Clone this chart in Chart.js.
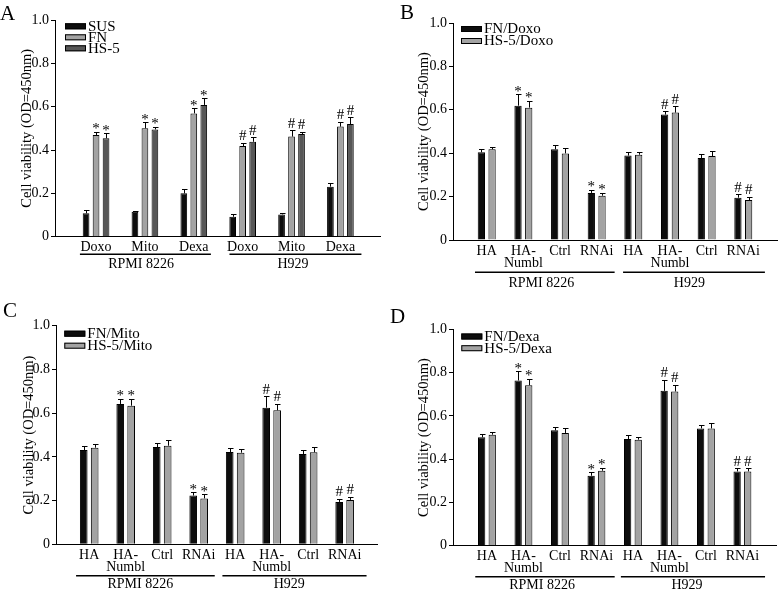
<!DOCTYPE html>
<html>
<head>
<meta charset="utf-8">
<script src="https://cdn.jsdelivr.net/npm/chart.js@4.4.1/dist/chart.umd.min.js"></script>
<style>
  body { margin: 0; background: #fff; }
  #figure { position: relative; width: 778px; height: 590px; }
  #figure canvas { position: absolute; }
</style>
</head>
<body>
<div id="figure">
  <canvas id="panel-a" width="389" height="295" style="left:0;top:0"></canvas>
  <canvas id="panel-b" width="389" height="295" style="left:389px;top:0"></canvas>
  <canvas id="panel-c" width="389" height="295" style="left:0;top:295px"></canvas>
  <canvas id="panel-d" width="389" height="295" style="left:389px;top:295px"></canvas>
</div>
<script>
// ---- data ----
const yTicks = [0, 0.2, 0.4, 0.6, 0.8, 1.0];
const yTickLabels = ['0', '0.2', '0.4', '0.6', '0.8', '1.0'];
const groupNames = ['RPMI 8226', 'H929'];

// Panel A
const drugCats = ['Doxo', 'Mito', 'Dexa', 'Doxo', 'Mito', 'Dexa'];
const susA = [0.108, 0.115, 0.200, 0.092, 0.103, 0.231];
const susErrA = [0.015, 0.003, 0.018, 0.013, 0.005, 0.018];
const fnA = [0.469, 0.500, 0.569, 0.418, 0.462, 0.508];
const fnErrA = [0.016, 0.028, 0.023, 0.016, 0.030, 0.023];
const hs5A = [0.454, 0.495, 0.608, 0.438, 0.474, 0.520];
const hs5ErrA = [0.023, 0.013, 0.030, 0.020, 0.011, 0.031];
const marksA = ['*', '*', '*', '#', '#', '#'];

// Panels B-D share the same categories
const numblCats = ['HA', ['HA-', 'Numbl'], 'Ctrl', 'RNAi', 'HA', ['HA-', 'Numbl'], 'Ctrl', 'RNAi'];
const marksNumbl = ['', '*', '', '*', '', '#', '', '#'];

const fnDoxo = [0.404, 0.619, 0.418, 0.217, 0.389, 0.578, 0.378, 0.195];
const fnDoxoErr = [0.015, 0.052, 0.018, 0.015, 0.015, 0.015, 0.017, 0.015];
const hsDoxo = [0.418, 0.610, 0.399, 0.204, 0.393, 0.587, 0.387, 0.184];
const hsDoxoErr = [0.012, 0.031, 0.025, 0.014, 0.014, 0.030, 0.023, 0.016];

const fnMito = [0.431, 0.642, 0.445, 0.223, 0.422, 0.625, 0.413, 0.194];
const fnMitoErr = [0.018, 0.023, 0.017, 0.015, 0.017, 0.052, 0.020, 0.014];
const hsMito = [0.442, 0.634, 0.451, 0.210, 0.419, 0.613, 0.421, 0.203];
const hsMitoErr = [0.015, 0.031, 0.026, 0.018, 0.017, 0.029, 0.026, 0.015];

const fnDexa = [0.501, 0.764, 0.533, 0.323, 0.493, 0.716, 0.542, 0.343];
const fnDexaErr = [0.017, 0.043, 0.017, 0.017, 0.017, 0.051, 0.017, 0.015];
const hsDexa = [0.513, 0.742, 0.521, 0.346, 0.490, 0.713, 0.542, 0.343];
const hsDexaErr = [0.014, 0.031, 0.023, 0.014, 0.014, 0.032, 0.025, 0.015];

const SERIF = "'Liberation Serif', 'Times New Roman', serif";
const BLACK = '#0d0d0d';
const LIGHT = '#a3a3a3';
const DARK = '#575757';

// error bars, significance marks, legend, group underlines and panel letter
const decorPlugin = {
    id: 'decor',
    afterDatasetsDraw(chart, args, opts) {
        const ctx = chart.ctx;
        const xs = chart.scales.x;
        const ys = chart.scales.y;
        const area = chart.chartArea;
        ctx.save();
        ctx.strokeStyle = '#000';
        ctx.fillStyle = '#000';
        ctx.lineWidth = 1;

        chart.data.datasets.forEach((ds, di) => {
            const meta = chart.getDatasetMeta(di);
            meta.data.forEach((bar, i) => {
                const top = ys.getPixelForValue(ds.data[i].y + ds.errors[i]);
                const cx = Math.round(bar.x) + 0.5;
                const ct = Math.round(top) + 0.5;
                ctx.beginPath();
                ctx.moveTo(cx, bar.y);
                ctx.lineTo(cx, ct);
                ctx.moveTo(cx - 2.5, ct);
                ctx.lineTo(cx + 3, ct);
                ctx.stroke();
                const m = ds.marks ? ds.marks[i] : '';
                if (m) {
                    ctx.font = '15px ' + SERIF;
                    ctx.textAlign = 'center';
                    ctx.textBaseline = 'alphabetic';
                    ctx.fillText(m, bar.x, top + (m === '*' ? 1.5 : -2.5));
                }
            });
        });

        // legend inside the plot, top-left
        const leg = opts.legend;
        chart.data.datasets.forEach((ds, di) => {
            const bx = area.left + leg.dx;
            const by = area.top + leg.dy + di * leg.pitch;
            ctx.fillStyle = ds.backgroundColor;
            ctx.fillRect(bx, by, 21, 6);
            ctx.strokeRect(bx + 0.5, by + 0.5, 20, 5);
            ctx.fillStyle = '#000';
            ctx.font = '15px ' + SERIF;
            ctx.textAlign = 'left';
            ctx.textBaseline = 'middle';
            ctx.fillText(ds.label, bx + 23, by + 3.5);
        });

        // cell line groups under the category labels
        ctx.lineWidth = 1.5;
        ctx.font = '14px ' + SERIF;
        ctx.textAlign = 'center';
        ctx.textBaseline = 'alphabetic';
        opts.groups.forEach((g, gi) => {
            const ly = area.bottom + opts.lineOffset;
            ctx.beginPath();
            ctx.moveTo(xs.getPixelForValue(g.from), ly);
            ctx.lineTo(xs.getPixelForValue(g.to), ly);
            ctx.stroke();
            ctx.fillText(groupNames[gi], xs.getPixelForValue(g.at), area.bottom + opts.labelOffset);
        });

        ctx.font = '21px ' + SERIF;
        ctx.textAlign = 'left';
        ctx.fillText(opts.letter, opts.letterX, opts.letterY);
        ctx.restore();
    }
};

function makeSeries(label, values, errors, marks, color) {
    return {
        label: label,
        data: values.map((v, i) => ({ x: i, y: v })),
        errors: errors,
        marks: marks,
        backgroundColor: color,
        borderColor: '#000',
        borderWidth: 1
    };
}

function makePanel(id, cfg) {
    const ctx = document.getElementById(id);
    return new Chart(ctx, {
        type: 'bar',
        data: { datasets: cfg.datasets },
        plugins: [decorPlugin],
        options: {
            responsive: false,
            animation: false,
            devicePixelRatio: 1,
            categoryPercentage: cfg.catPct,
            barPercentage: cfg.barPct,
            layout: { padding: { top: cfg.top, right: cfg.right, left: 0, bottom: 0 } },
            plugins: {
                legend: { display: false },
                tooltip: { enabled: false },
                decor: {
                    letter: cfg.letter,
                    letterX: cfg.letterX,
                    letterY: cfg.letterY,
                    legend: cfg.legend,
                    groups: cfg.groups,
                    lineOffset: cfg.lineOffset,
                    labelOffset: cfg.labelOffset
                }
            },
            scales: {
                x: {
                    type: 'linear',
                    min: cfg.xMin,
                    max: cfg.xMax,
                    offset: false,
                    afterFit: (s) => { s.height = cfg.xHeight; },
                    afterBuildTicks: (s) => { s.ticks = cfg.cats.map((c, i) => ({ value: i })); },
                    grid: { drawOnChartArea: false, drawTicks: false, offset: false },
                    border: { display: true, color: '#000', width: 1 },
                    ticks: {
                        autoSkip: false,
                        maxRotation: 0,
                        minRotation: 0,
                        padding: 5,
                        color: '#000',
                        font: { family: SERIF, size: 14, lineHeight: 0.85 },
                        callback: (v) => cfg.cats[v]
                    }
                },
                y: {
                    min: 0,
                    max: 1,
                    afterFit: (s) => { s.width = cfg.yWidth; },
                    afterBuildTicks: (s) => { s.ticks = yTicks.map(v => ({ value: v })); },
                    grid: { drawOnChartArea: false, color: '#000', tickLength: 4 },
                    border: { color: '#000', width: 1 },
                    ticks: {
                        color: '#000',
                        padding: 2,
                        font: { family: SERIF, size: 14 },
                        callback: (v, i) => yTickLabels[i]
                    },
                    title: {
                        display: true,
                        text: 'Cell viability (OD=450nm)',
                        color: '#000',
                        font: { family: SERIF, size: 14.5, lineHeight: 1.2 },
                        padding: { top: cfg.titleX - 8.7, bottom: 0 }
                    }
                }
            }
        }
    });
}

document.addEventListener('DOMContentLoaded', () => {
    makePanel('panel-a', {
        letter: 'A', letterX: 0, letterY: 19.5,
        cats: drugCats,
        datasets: [
            makeSeries('SUS', susA, susErrA, null, BLACK),
            makeSeries('FN', fnA, fnErrA, marksA, LIGHT),
            makeSeries('HS-5', hs5A, hs5ErrA, marksA, DARK)
        ],
        xMin: -0.84, xMax: 5.81, catPct: 0.613, barPct: 0.67,
        top: 20, right: 9, yWidth: 55, xHeight: 58.3, titleX: 27,
        legend: { dx: 10, dy: 3.3, pitch: 11 },
        groups: [{ from: -0.33, to: 2.35, at: 0.92 }, { from: 2.73, to: 5.43, at: 4.03 }],
        lineOffset: 17.6, labelOffset: 31.6
    });

    makePanel('panel-b', {
        letter: 'B', letterX: 11, letterY: 18.5,
        cats: numblCats,
        datasets: [
            makeSeries('FN/Doxo', fnDoxo, fnDoxoErr, marksNumbl, BLACK),
            makeSeries('HS-5/Doxo', hsDoxo, hsDoxoErr, marksNumbl, LIGHT)
        ],
        xMin: -0.92, xMax: 7.92, catPct: 0.584, barPct: 0.68,
        top: 23, right: 1, yWidth: 64, xHeight: 55, titleX: 35,
        legend: { dx: 8, dy: 3, pitch: 12 },
        groups: [{ from: -0.32, to: 3.49, at: 1.49 }, { from: 3.72, to: 7.59, at: 5.53 }],
        lineOffset: 32.2, labelOffset: 46.7
    });

    makePanel('panel-c', {
        letter: 'C', letterX: 3, letterY: 22,
        cats: numblCats,
        datasets: [
            makeSeries('FN/Mito', fnMito, fnMitoErr, marksNumbl, BLACK),
            makeSeries('HS-5/Mito', hsMito, hsMitoErr, marksNumbl, LIGHT)
        ],
        xMin: -0.91, xMax: 7.90, catPct: 0.6, barPct: 0.7,
        top: 30.7, right: 11.5, yWidth: 56, xHeight: 45.7, titleX: 29,
        legend: { dx: 8.3, dy: 5, pitch: 12 },
        groups: [{ from: -0.36, to: 3.44, at: 1.40 }, { from: 3.65, to: 7.6, at: 5.48 }],
        lineOffset: 31.4, labelOffset: 44
    });

    makePanel('panel-d', {
        letter: 'D', letterX: 1, letterY: 28,
        cats: numblCats,
        datasets: [
            makeSeries('FN/Dexa', fnDexa, fnDexaErr, marksNumbl, BLACK),
            makeSeries('HS-5/Dexa', hsDexa, hsDexaErr, marksNumbl, LIGHT)
        ],
        xMin: -0.93, xMax: 7.92, catPct: 0.58, barPct: 0.69,
        top: 34.5, right: 2, yWidth: 64, xHeight: 44.5, titleX: 35,
        legend: { dx: 8.3, dy: 4, pitch: 11.7 },
        groups: [{ from: -0.32, to: 3.5, at: 1.51 }, { from: 3.67, to: 7.62, at: 5.48 }],
        lineOffset: 31.2, labelOffset: 43.5
    });
});
</script>
</body>
</html>
